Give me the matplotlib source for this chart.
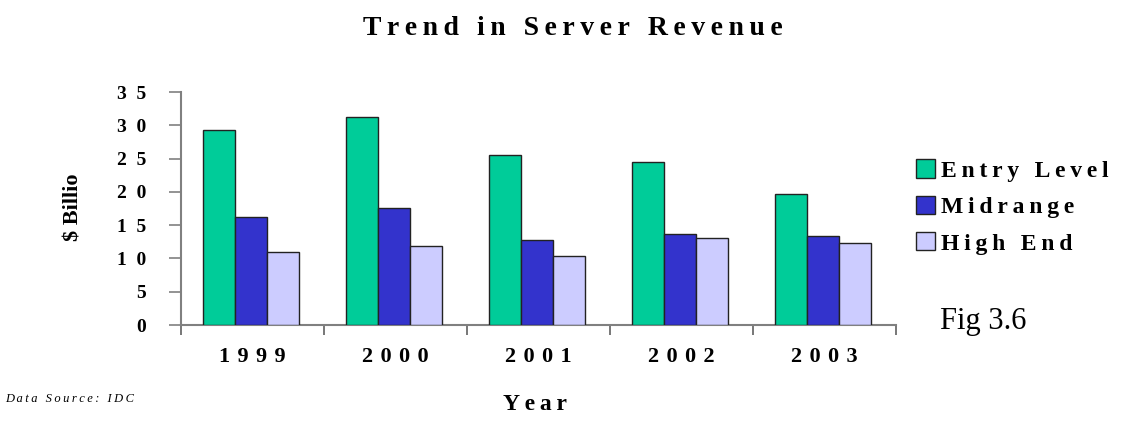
import matplotlib.pyplot as plt
import numpy as np

years = ['1999', '2000', '2001', '2002', '2003']
entry_level = [29.3, 31.2, 25.6, 24.5, 19.7]
midrange = [16.2, 17.6, 12.8, 13.7, 13.4]
high_end = [11.0, 11.9, 10.4, 13.1, 12.3]
series_names = ['Entry Level', 'Midrange', 'High End']
colors = ['#00CC99', '#3333CC', '#CCCCFF']
yticks = [0, 5, 10, 15, 20, 25, 30, 35]

SERIF = ['Liberation Serif', 'DejaVu Serif']
plt.rcParams['font.family'] = SERIF


def spaced(s, sep='\u2009'):
    # fake letter spacing like the old excel chart
    return sep.join(s)


fig = plt.figure(figsize=(11.23, 4.21), dpi=100)
ax = fig.add_axes([181 / 1123, 1 - 325 / 421, 715 / 1123, 233 / 421])

x = np.arange(len(years))
w = 0.224
for i, (vals, c) in enumerate(zip([entry_level, midrange, high_end], colors)):
    ax.bar(x + (i - 1) * w - 0.01, vals, w, color=c, edgecolor='#222222',
           linewidth=1.0, label=series_names[i], zorder=3)

ax.set_xlim(-0.5, 4.5)
ax.set_ylim(0, 35)
for s in ['top', 'right']:
    ax.spines[s].set_visible(False)
for s in ['left', 'bottom']:
    ax.spines[s].set_color('#808080')
    ax.spines[s].set_linewidth(1.5)

ax.set_yticks(yticks)
ax.set_yticklabels([spaced(str(v), '\u2002') for v in yticks], fontsize=14, fontweight='bold')
ax.tick_params(axis='y', direction='out', length=9, width=1.2, color='#808080', pad=16)

ax.set_xticks(np.arange(-0.5, 5, 1))
ax.set_xticklabels([])
ax.tick_params(axis='x', which='major', direction='out', length=7, width=1.2, color='#606060')
ax.set_xticks(x, minor=True)
ax.set_xticklabels([spaced(y, '\u2004') for y in years], minor=True, fontsize=16, fontweight='bold')
ax.tick_params(axis='x', which='minor', length=0, pad=16)

fig.text(0.51, 0.932, spaced('Trend in Server Revenue'), ha='center', va='center',
         fontsize=20, fontweight='bold')
fig.text(535 / 1123, 1 - 405 / 421, spaced('Year'), ha='center', va='center',
         fontsize=17, fontweight='bold')
# the label is cut off in the original
fig.text(73 / 1123, 1 - 207 / 421, '$ Billio', rotation=90, ha='center', va='center',
         fontsize=16, fontweight='bold')
fig.text(5 / 1123, 1 - 399 / 421, spaced('Data Source: IDC'), ha='left', va='center',
         fontsize=9, style='italic')
fig.text(940 / 1123, 1 - 322 / 421, 'Fig 3.6', ha='left', va='center', fontsize=22)

leg = fig.legend(loc='center left', bbox_to_anchor=(916 / 1123, 1 - 207 / 421),
                 frameon=False, borderpad=0, borderaxespad=0,
                 prop={'family': SERIF, 'weight': 'bold', 'size': 17},
                 handlelength=0.8, handleheight=0.8, handletextpad=0.25, labelspacing=0.6)
for t in leg.get_texts():
    t.set_text(spaced(t.get_text()))

fig.savefig('out.png', dpi=100)
